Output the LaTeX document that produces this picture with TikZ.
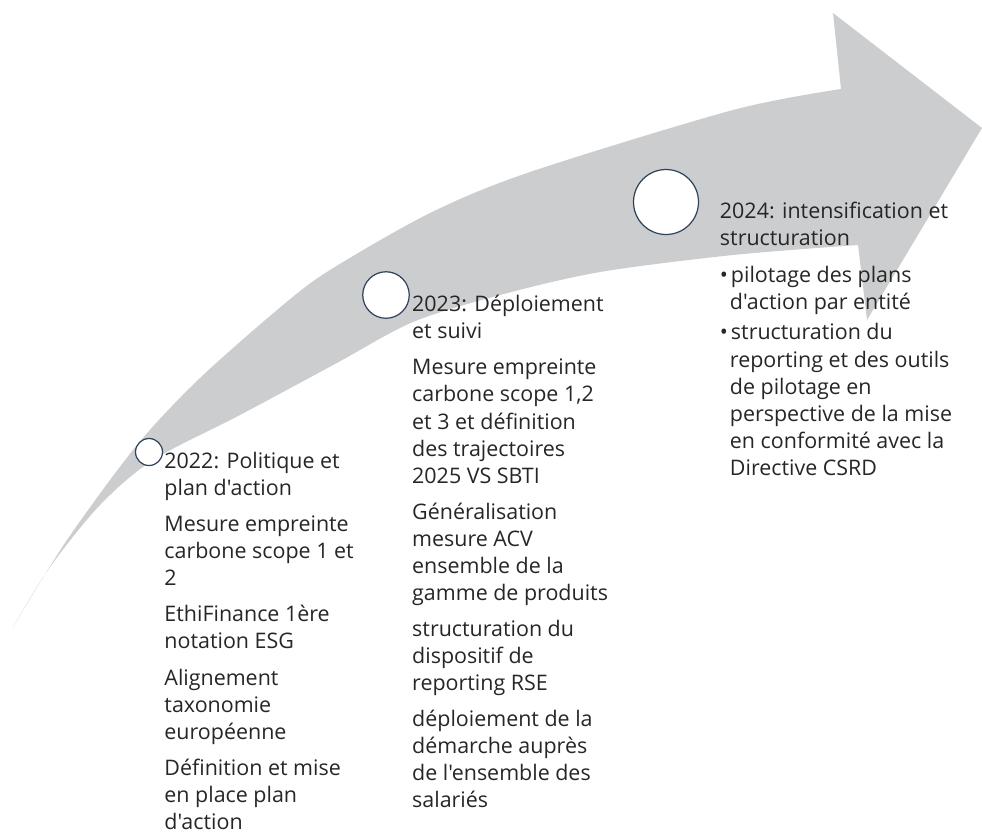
\documentclass[tikz,border=0pt]{standalone}
\usepackage{fontspec}
\newfontfamily\stepfont{Open Sans}
\usepackage{tikz}
\usetikzlibrary{positioning}
\definecolor{bandgray}{RGB}{204,205,207}
\definecolor{ringblue}{RGB}{47,69,92}
\definecolor{inkgray}{RGB}{38,38,38}

\begin{document}
\begin{tikzpicture}[x=0.02cm, y=-0.02cm,
    ring/.style={circle, draw=ringblue, fill=white, line width=0.7pt, inner sep=0pt},
    milestone/.style={align=left, inner sep=0pt, text=inkgray, font=\stepfont\fontsize{12.2pt}{15.4pt}\selectfont}]
        \useasboundingbox (0,0) rectangle (982,836);
        \fill[bandgray] plot[smooth, tension=0.5] coordinates {(13,627) (67,540) (137,445) (200,378) (283,305) (330,270) (430,213) (530,172) (733,110) (841,89)}
            -- (833,13) -- (982,128) -- (867,320) -- (858,245)
            -- plot[smooth, tension=0.5] coordinates {(858,245) (733,255) (600,272) (500,295) (413,322) (335,364) (240,415) (153,460) (100,505) (50,567) (13,627)} -- cycle;

        \node (c22) [ring, minimum size=0.54cm] at (149,452) {};
        \node (c23) [ring, minimum size=0.93cm] at (386,295) {};
        \node (c24) [ring, minimum size=1.3cm] at (666,202) {};

        \node (t22) [milestone, below right=0cm and 0.02cm of c22.east] {2022: Politique et\\ plan d'action\\[0.18cm]
            Mesure empreinte\\ carbone scope 1 et\\ 2\\[0.18cm]
            EthiFinance 1ère\\ notation ESG\\[0.18cm]
            Alignement\\ taxonomie\\ européenne\\[0.18cm]
            Définition et mise\\ en place plan\\ d'action};
        \node (t23) [milestone, below right=0cm and 0.04cm of c23.east] {2023: Déploiement\\ et suivi\\[0.18cm]
            Mesure empreinte\\ carbone scope 1,2\\ et 3 et définition\\ des trajectoires\\ 2025 VS SBTI\\[0.18cm]
            Généralisation\\ mesure ACV\\ ensemble de la\\ gamme de produits\\[0.18cm]
            structuration du\\ dispositif de\\ reporting RSE\\[0.18cm]
            déploiement de la\\ démarche auprès\\ de l'ensemble des\\ salariés};
        \node (t24) [milestone, below right=0cm and 0.41cm of c24.east] {2024: intensification et\\ structuration\\[0.2cm]
            \makebox[0.22cm][l]{•}pilotage des plans\\ \hspace*{0.2cm}d'action par entité\\[0.06cm]
            \makebox[0.22cm][l]{•}structuration du\\ \hspace*{0.2cm}reporting et des outils\\ \hspace*{0.2cm}de pilotage en\\
            \hspace*{0.2cm}perspective de la mise\\ \hspace*{0.2cm}en conformité avec la\\ \hspace*{0.2cm}Directive CSRD};
\end{tikzpicture}
\end{document}
